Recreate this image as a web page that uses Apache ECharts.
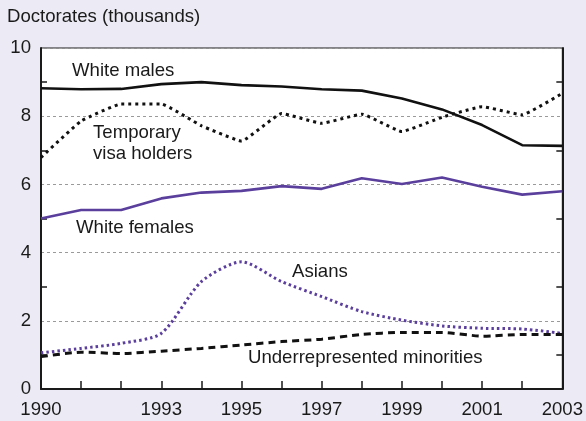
<!DOCTYPE html>
<html><head><meta charset="utf-8">
<script src="https://cdn.jsdelivr.net/npm/echarts@6/dist/echarts.min.js"></script>
<style>html,body{margin:0;padding:0;background:#ecebf5;}#c{width:586px;height:421px;}</style>
</head><body><div id="c"></div>
<script>
const years = [1990,1991,1992,1993,1994,1995,1996,1997,1998,1999,2000,2001,2002,2003];
const xTickLabels = [1990,1993,1995,1997,1999,2001,2003];
const yTickLabels = [0,2,4,6,8,10];
const whiteMales = [8.82,8.79,8.80,8.94,9.00,8.91,8.87,8.79,8.75,8.52,8.20,7.74,7.15,7.13];
const tempVisa = [6.79,7.86,8.36,8.36,7.72,7.27,8.08,7.79,8.06,7.55,7.97,8.28,8.04,8.67];
const whiteFemales = [5.00,5.25,5.25,5.59,5.76,5.81,5.95,5.87,6.18,6.01,6.20,5.93,5.70,5.80];
const asians = [1.06,1.19,1.34,1.63,3.15,3.73,3.15,2.71,2.27,2.02,1.85,1.78,1.76,1.63];
const minorities = [0.95,1.08,1.04,1.11,1.19,1.29,1.39,1.46,1.60,1.66,1.66,1.55,1.60,1.60];
const seriesNames = ['White males','Temporary visa holders','White females','Asians','Underrepresented minorities'];

const FONT = '"Liberation Sans", Arial, Helvetica, sans-serif';
const FS = 18.6;
const purple = '#5b3f9d';
const pairs = a => years.map((y,i)=>[y,a[i]]);

const chart = echarts.init(document.getElementById('c'), null, {renderer:'canvas'});
const yAxisBase = {
  type:'value', min:0, max:10, interval:2,
  axisLine:{show:true, lineStyle:{color:'#1a1a1a', width:2}},
  axisTick:{show:false, inside:true},
  minorTick:{show:true, splitNumber:2, length:6, lineStyle:{color:'#1a1a1a', width:1.5}},
  minorSplitLine:{show:false}
};
const txt = (t,x,y) => ({type:'text', x:x, y:y, z:10,
  style:{text:t, font:FS+'px '+FONT, fill:'#1a1a1a', verticalAlign:'middle'}});
chart.setOption({
  backgroundColor:'#ecebf5',
  animation:false,
  grid:{left:41, right:22, top:48, bottom:32, show:true, backgroundColor:'#ffffff', borderColor:'#1a1a1a', borderWidth:1},
  xAxis:{
    type:'value', min:1990, max:2003, interval:1,
    axisLine:{show:true, onZero:false, lineStyle:{color:'#1a1a1a', width:2}},
    axisTick:{show:true, inside:true, length:8, lineStyle:{color:'#1a1a1a', width:1.5}},
    splitLine:{show:false},
    axisLabel:{
      margin:11, color:'#1a1a1a', fontSize:FS, fontFamily:FONT,
      formatter: v => xTickLabels.includes(v) ? String(v) : ''
    }
  },
  yAxis:[
    Object.assign({}, yAxisBase, {
      position:'left',
      splitLine:{show:true, lineStyle:{color:'#9a9a9a', type:[3,3], width:1}},
      axisLabel:{margin:10, color:'#1a1a1a', fontSize:FS, fontFamily:FONT,
        formatter: v => yTickLabels.includes(v) ? String(v) : ''}
    }),
    Object.assign({}, yAxisBase, {
      position:'right',
      splitLine:{show:false},
      axisLabel:{show:false}
    })
  ],
  series:[
    {name:seriesNames[0], type:'line', data:pairs(whiteMales), showSymbol:false, smooth:false,
      lineStyle:{color:'#111', width:2.6}, z:5},
    {name:seriesNames[1], type:'line', data:pairs(tempVisa), showSymbol:false, smooth:0.1,
      lineStyle:{color:'#111', width:3, type:[3,4]}, z:5},
    {name:seriesNames[2], type:'line', data:pairs(whiteFemales), showSymbol:false,
      lineStyle:{color:purple, width:2.6}, z:5},
    {name:seriesNames[3], type:'line', data:pairs(asians), showSymbol:false, smooth:0.25,
      lineStyle:{color:purple, width:3, type:[2.5,3]}, z:5},
    {name:seriesNames[4], type:'line', data:pairs(minorities), showSymbol:false, smooth:0.2,
      lineStyle:{color:'#111', width:3, type:[7,5]}, z:5}
  ],
  graphic:[
    {type:'text', left:7, top:7, style:{text:'Doctorates (thousands)', font:FS+'px '+FONT, fill:'#1a1a1a'}},
    txt('White males',72,71),
    txt('Temporary',93,133),
    txt('visa holders',93,154),
    txt('White females',76,228),
    txt('Asians',292,272),
    txt('Underrepresented minorities',248,357.5)
  ]
});
</script></body></html>
